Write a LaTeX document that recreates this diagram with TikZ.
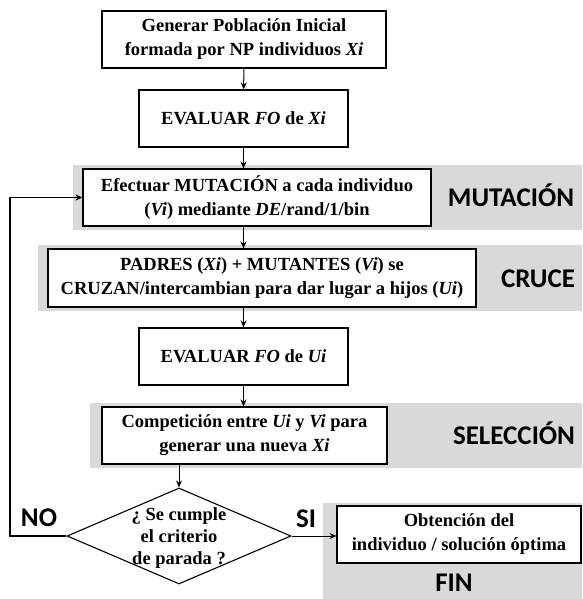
\documentclass[tikz,border=0pt]{standalone}
\usepackage{fontspec}
\setmainfont{Liberation Serif}
\newfontfamily\labfont{Carlito}
\usetikzlibrary{arrows.meta,shapes.geometric}
\definecolor{bandgray}{RGB}{217,217,217}
\begin{document}
\begin{tikzpicture}[x=1pt,y=-1pt,
  box/.style={draw,line width=1.1pt,fill=white,align=center,inner sep=0pt,
    font=\fontsize{18.5}{24}\selectfont\bfseries},
  arr/.style={line width=1pt,-{Stealth[length=7pt,width=6pt]}},
  lbl/.style={font=\fontsize{27}{30}\selectfont\labfont\bfseries,inner sep=0pt,anchor=base},
  band/.style={fill=bandgray,draw=none}]
\useasboundingbox (0,0) rectangle (582,599);
% gray bands
\fill[band] (73,165) rectangle (582,230);
\fill[band] (38,245) rectangle (582,311);
\fill[band] (90,403) rectangle (582,468);
\fill[band] (323,503) rectangle (582,599);
% boxes
\node[box,minimum width=284pt,minimum height=57pt] (b1) at (244,39.5)
  {Generar Población Inicial\\formada por NP individuos \textit{Xi}};
\node[box,minimum width=209pt,minimum height=57pt] (b2) at (243.5,118.5)
  {EVALUAR \textit{FO} de \textit{Xi}};
\node[box,minimum width=348pt,minimum height=57pt] (b3) at (257,197.5)
  {Efectuar MUTACIÓN a cada individuo\\(\textit{Vi}) mediante \textit{DE}/rand/1/bin};
\node[box,minimum width=428pt,minimum height=58pt] (b4) at (262,278)
  {PADRES (\textit{Xi}) + MUTANTES (\textit{Vi}) se\\CRUZAN/intercambian para dar lugar a hijos (\textit{Ui})};
\node[box,minimum width=209pt,minimum height=57pt] (b5) at (243.5,356.5)
  {EVALUAR \textit{FO} de \textit{Ui}};
\node[box,minimum width=285pt,minimum height=57pt] (b6) at (244.5,435.5)
  {Competición entre \textit{Ui} y \textit{Vi} para\\generar una nueva \textit{Xi}};
\node[draw,diamond,line width=1.1pt,minimum width=224pt,minimum height=96pt,inner sep=0pt] (d) at (179,536) {};
\node[align=center,inner sep=0pt,font=\fontsize{18.5}{22}\selectfont\bfseries] (dt) at (179,538)
  {¿ Se cumple\\el criterio\\de parada ?};
\node[box,minimum width=244pt,minimum height=57pt] (b7) at (459,534.5)
  {Obtención del\\individuo / solución óptima};
% labels
\node[lbl] (lm) at (511,206) {MUTACIÓN};
\node[lbl] (lc) at (538,287) {CRUCE};
\node[lbl] (ls) at (514,444) {SELECCIÓN};
\node[lbl] (lno) at (39,526) {NO};
\node[lbl] (lsi) at (306,527) {SI};
\node[lbl] (lf) at (454,591) {FIN};
% connectors
\draw[arr] (b1) -- (b2);
\draw[arr] (b2) -- (b2 |- b3.north);
\draw[arr] (b3.south -| b2) -- (b2 |- b4.north);
\draw[arr] (b4.south -| b2) -- (b5);
\draw[arr] (b5) -- (b5 |- b6.north);
\draw[arr] (b6.south -| d.north) -- (d.north);
\draw[arr] (d.east) -- (d.east -| b7.west);
\coordinate (fb) at (10,536);
\draw[arr,line width=1.4pt] (d.west) -- (fb) |- (b3.west);
\end{tikzpicture}
\end{document}
